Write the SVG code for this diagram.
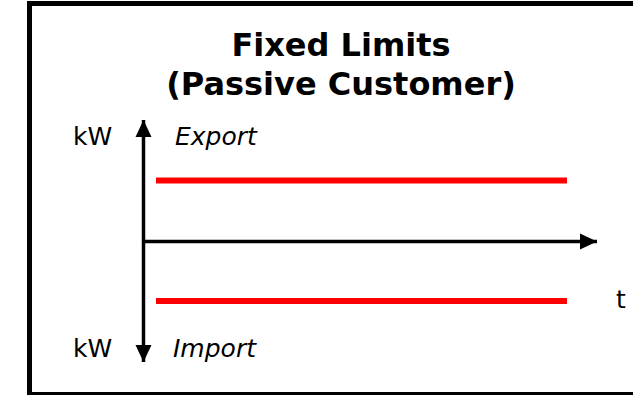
<svg xmlns="http://www.w3.org/2000/svg" width="633" height="395" viewBox="0 0 633 395">
  <style>
    .frame { fill: #ffffff; stroke: #000000; stroke-width: 5; }
    .title { font-family: "DejaVu Sans", Verdana, sans-serif; font-weight: bold; font-size: 32px; fill: #000000; text-anchor: middle; }
    .label { font-family: "DejaVu Sans", Verdana, sans-serif; font-size: 25px; fill: #000000; }
    .italic { font-style: italic; }
    .axis { stroke: #000000; stroke-width: 3.5; fill: none; }
    .limit { stroke: #ff0000; stroke-width: 6; fill: none; }
  </style>
  <defs>
    <marker id="arrow" markerUnits="userSpaceOnUse" markerWidth="18" markerHeight="18" viewBox="0 0 18 18" refX="17" refY="9" orient="auto">
      <path d="M0,1 L17,9 L0,17 Z" fill="#000000"/>
    </marker>
  </defs>

  <rect width="633" height="395" fill="#ffffff"/>

  <!-- outer frame, right edge runs off the canvas -->
  <rect id="frame" class="frame" x="29.5" y="3.5" width="620" height="391"/>

  <g id="title">
    <text class="title" x="341" y="56">Fixed Limits</text>
    <text class="title" x="341" y="95">(Passive Customer)</text>
  </g>

  <!-- axes -->
  <g id="axes">
    <line class="axis" x1="143.5" y1="241.5" x2="143.5" y2="120" marker-end="url(#arrow)"/>
    <line class="axis" x1="143.5" y1="241.5" x2="143.5" y2="362" marker-end="url(#arrow)"/>
    <line class="axis" x1="142" y1="241.5" x2="597" y2="241.5" marker-end="url(#arrow)"/>
  </g>

  <!-- export / import limits -->
  <g id="limits">
    <line id="export-limit" class="limit" x1="156" y1="180.5" x2="567" y2="180.5"/>
    <line id="import-limit" class="limit" x1="156" y1="301" x2="567" y2="301"/>
  </g>

  <g id="labels">
    <text class="label" x="73" y="145">kW</text>
    <text class="label italic" x="175" y="145">Export</text>
    <text class="label" x="73" y="357">kW</text>
    <text class="label italic" x="173" y="357">Import</text>
    <text class="label" x="616" y="308">t</text>
  </g>
</svg>
